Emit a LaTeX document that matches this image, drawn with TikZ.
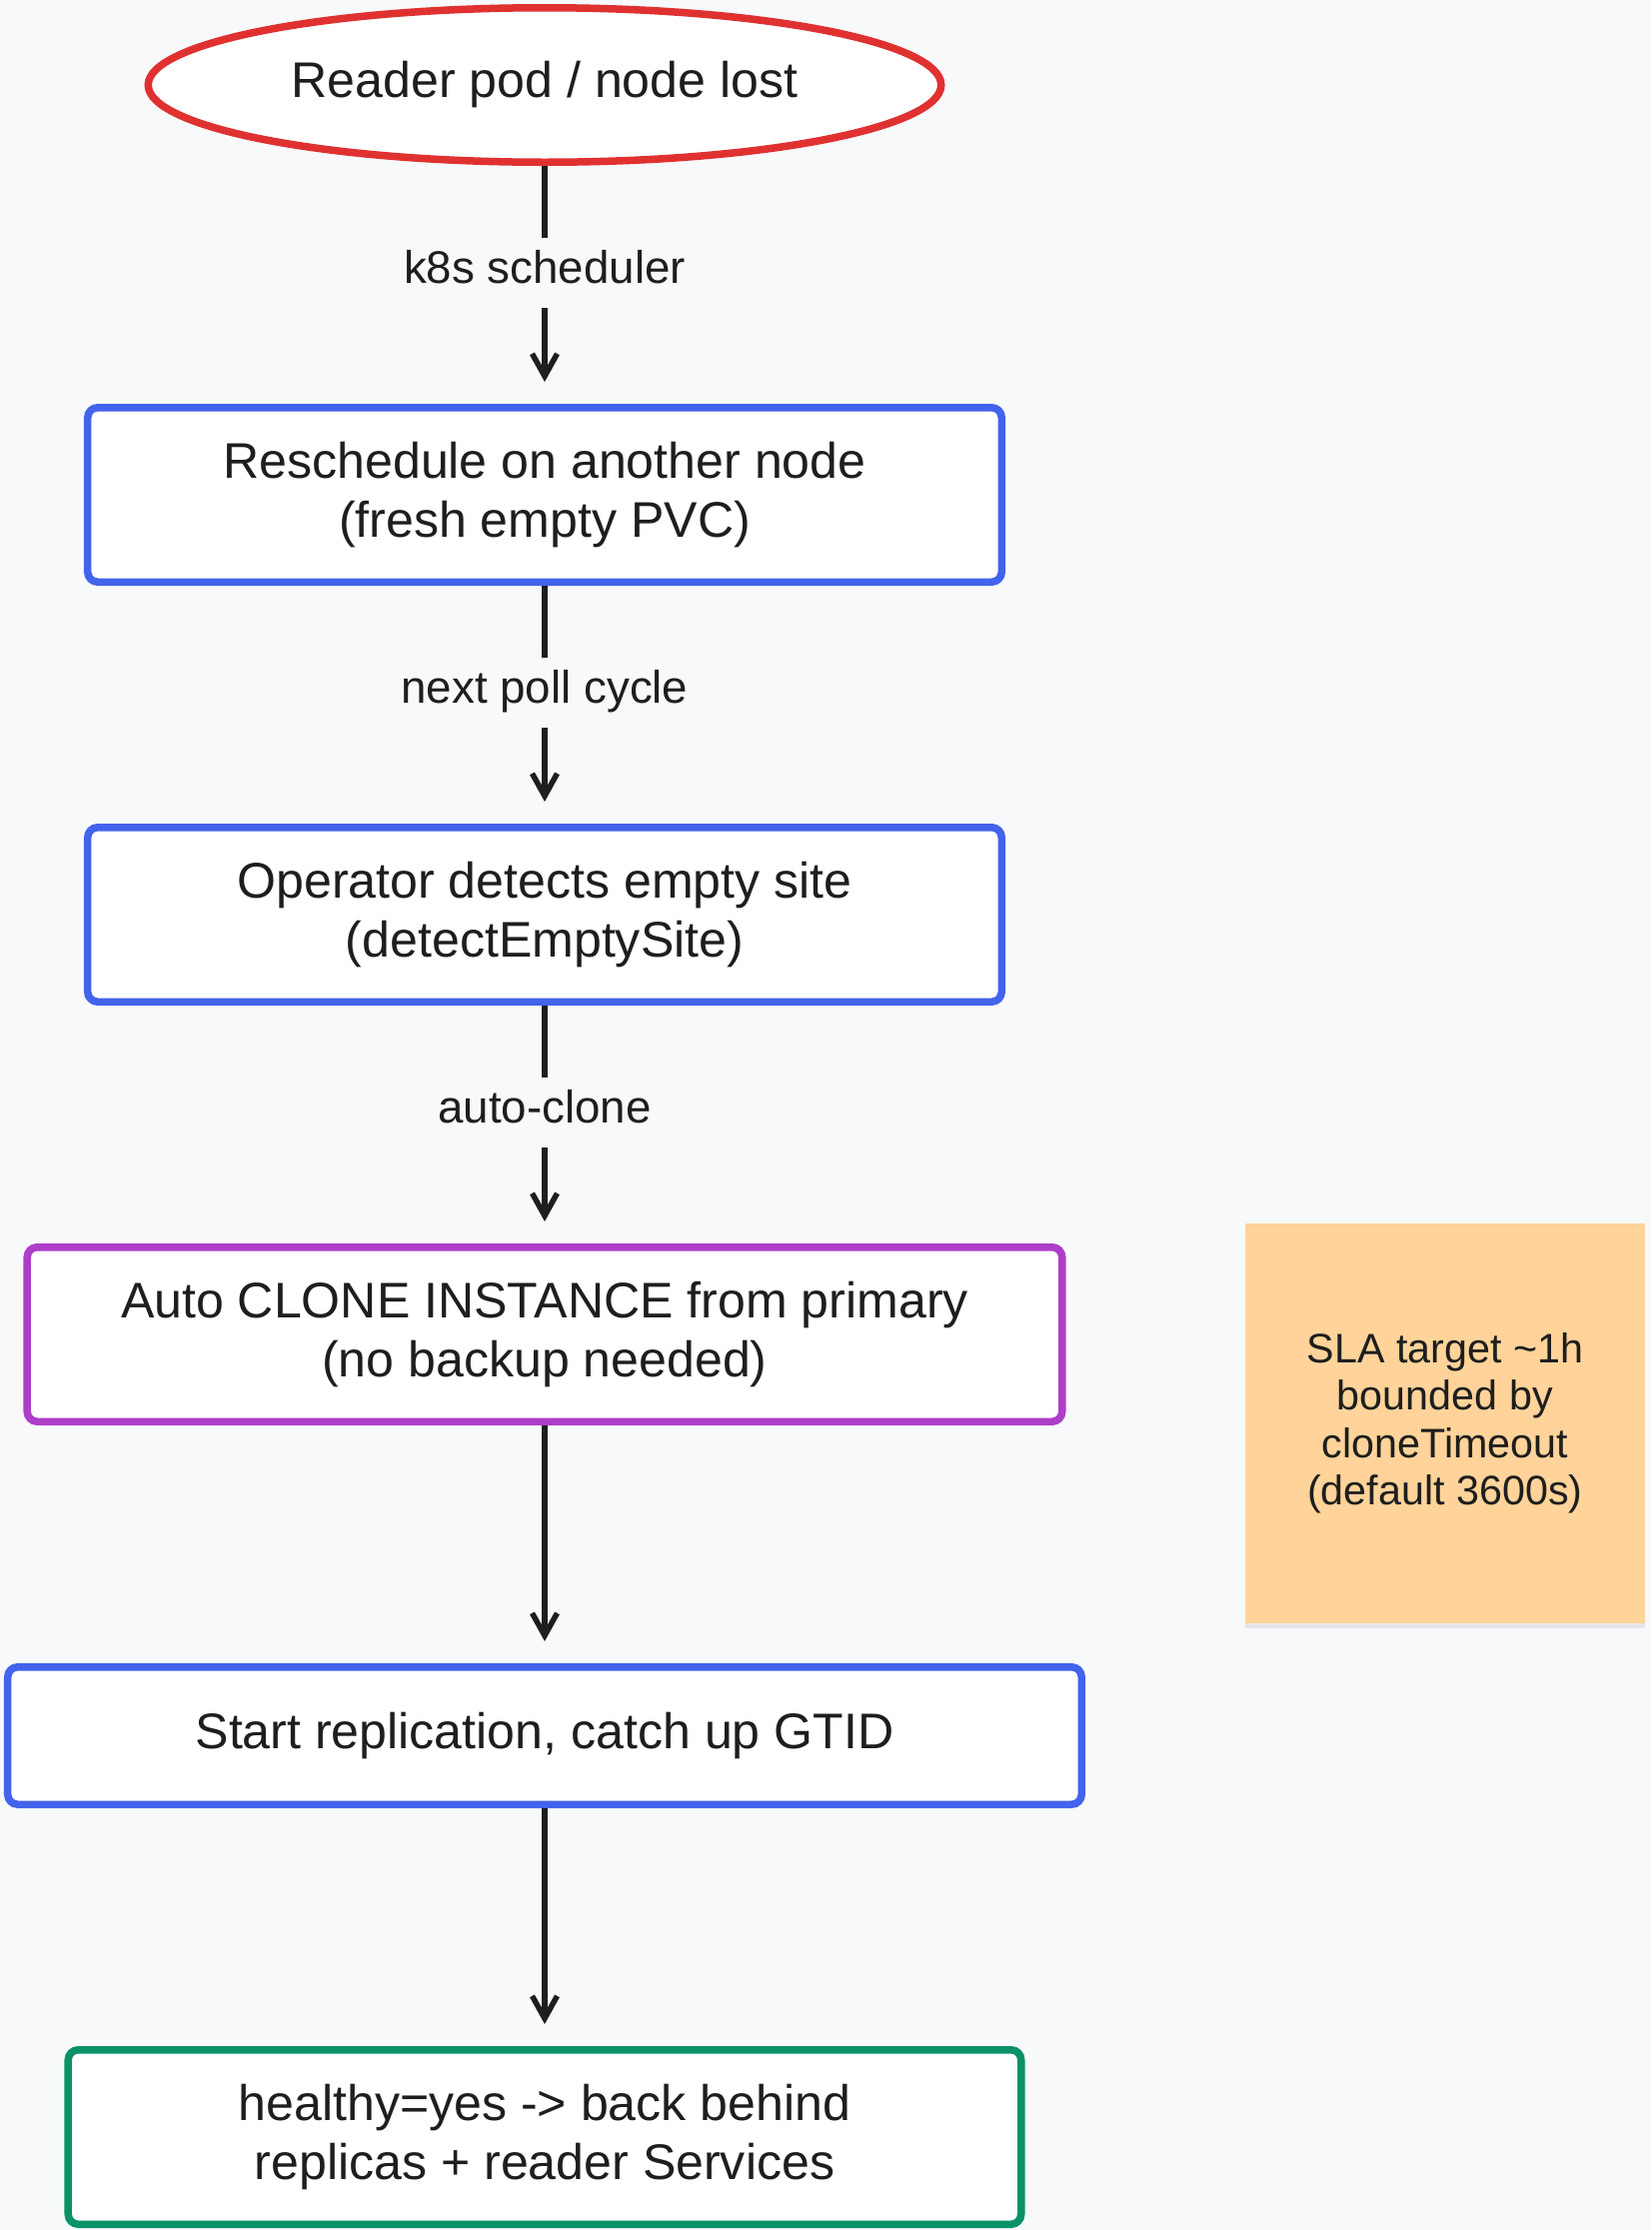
\documentclass[tikz,border=0pt]{standalone}
\usepackage{fontspec}
\setmainfont{Liberation Sans}
\usetikzlibrary{arrows.meta, positioning, shapes.geometric, shadows}
\definecolor{bgpaper}{HTML}{F8F9FB}
\definecolor{inkgrey}{HTML}{1E1E1E}
\definecolor{lostred}{HTML}{E03131}
\definecolor{flowblue}{HTML}{4263EB}
\definecolor{clonepurple}{HTML}{AE3EC9}
\definecolor{okgreen}{HTML}{099268}
\definecolor{notepeach}{HTML}{FFD399}

\begin{document}
\begin{tikzpicture}[
    node distance=4.76cm,
    stepbox/.style={draw=flowblue, line width=0.15cm, rounded corners=0.2cm,
                    fill=white, align=center, text=inkgrey,
                    font=\fontsize{28.5}{34}\selectfont, minimum height=3.49cm},
    lbl/.style={fill=bgpaper, text=inkgrey, font=\fontsize{26}{30}\selectfont,
                text height=18pt, text depth=6pt, inner xsep=4pt, inner ysep=0.28cm},
    arr/.style={-{Straight Barb[length=0.45cm, width=0.5cm]}, inkgrey,
                line width=0.11cm, shorten >=0.44cm}]
  \path[use as bounding box, fill=bgpaper] (-10.9,1.7) rectangle (22.14,-42.92);
  \node[ellipse, draw=lostred, line width=0.15cm, fill=white, text=inkgrey,
        font=\fontsize{28.5}{34}\selectfont, minimum width=15.87cm,
        minimum height=3.09cm, inner sep=0pt] (lost) at (0,0) {Reader pod / node lost};
  \node[stepbox, minimum width=18.29cm, below=of lost] (resched)
    {Reschedule on another node\\(fresh empty PVC)};
  \node[stepbox, minimum width=18.29cm, below=of resched] (detect)
    {Operator detects empty site\\(detectEmptySite)};
  \node[stepbox, draw=clonepurple, minimum width=20.71cm, below=of detect] (clone)
    {Auto CLONE INSTANCE from primary\\(no backup needed)};
  \node[stepbox, minimum width=21.49cm, minimum height=2.75cm, below=of clone] (repl)
    {Start replication, catch up GTID};
  \node[stepbox, draw=okgreen, minimum width=19.07cm, below=of repl] (healthy)
    {healthy=yes -> back behind\\replicas + reader Services};
  \node[fill=notepeach, text=inkgrey, align=center, minimum size=8cm,
        font=\fontsize{23.5}{27}\selectfont,
        drop shadow={shadow xshift=0pt, shadow yshift=-3pt, opacity=0.15},
        right=3.58cm of clone, yshift=-1.78cm] (sla)
    {SLA target \textasciitilde1h\\bounded by\\cloneTimeout\\(default 3600s)};
  \draw[arr] (lost) -- node[lbl, pos=0.45] {k8s scheduler} (resched);
  \draw[arr] (resched) -- node[lbl, pos=0.45] {next poll cycle} (detect);
  \draw[arr] (detect) -- node[lbl, pos=0.45] {auto-clone} (clone);
  \draw[arr] (clone) -- (repl);
  \draw[arr] (repl) -- (healthy);
\end{tikzpicture}
\end{document}
